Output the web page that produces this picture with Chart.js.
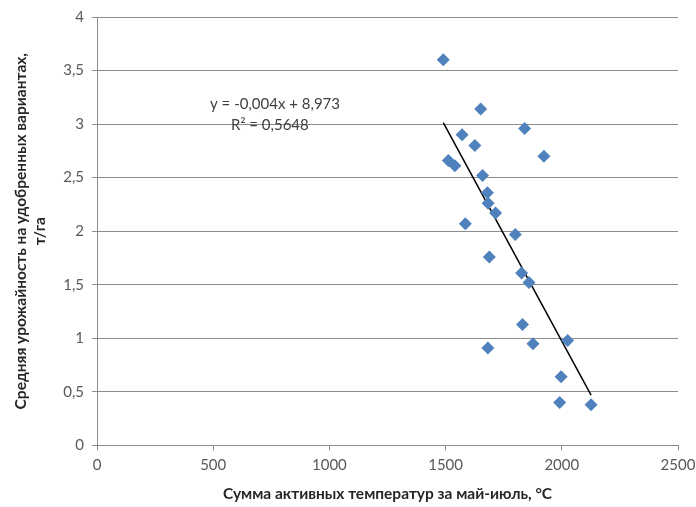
<!DOCTYPE html>
<html>
<head>
<meta charset="utf-8">
<script src="https://cdn.jsdelivr.net/npm/chart.js@4"></script>
<style>
  html, body { margin: 0; padding: 0; background: #fff; }
  #wrap { width: 696px; height: 507px; position: relative; }
</style>
</head>
<body>
<div id="wrap"><canvas id="chart"></canvas></div>
<script>
// Сумма активных температур (x) и средняя урожайность (y)
const temps = [1490, 1651, 1840, 1571, 1626, 1923, 1512, 1540, 1659, 1680, 1683, 1715,
               1585, 1800, 1688, 1827, 1859, 1831, 2025, 1876, 1682, 1997, 1991, 2126];
const yields = [3.60, 3.14, 2.96, 2.90, 2.80, 2.70, 2.66, 2.61, 2.52, 2.36, 2.26, 2.17,
                2.07, 1.97, 1.76, 1.61, 1.52, 1.13, 0.98, 0.95, 0.91, 0.64, 0.40, 0.38];

// линия тренда: y = -0,004x + 8,973
const slope = -0.004;
const intercept = 8.973;
const trendLabels = ['y = -0,004x + 8,973', 'R\u00B2 = 0,5648'];

const xTicks = [0, 500, 1000, 1500, 2000, 2500];
const yTicks = [0, 0.5, 1, 1.5, 2, 2.5, 3, 3.5, 4];

const points = temps.map((t, i) => ({ x: t, y: yields[i] }));
const xMin = Math.min(...temps), xMax = Math.max(...temps);
const trend = [xMin, xMax].map(x => ({ x: x, y: slope * x + intercept }));

const fontFamily = 'Lato, "Open Sans", sans-serif';
const gridColor = '#8c8c8c';

// подпись уравнения тренда
const trendText = {
  id: 'trendText',
  afterDatasetsDraw(chart) {
    const { ctx, scales } = chart;
    ctx.save();
    ctx.fillStyle = '#404040';
    ctx.font = '15px ' + fontFamily;
    ctx.textAlign = 'center';
    ctx.textBaseline = 'middle';
    ctx.fillText(trendLabels[0], scales.x.getPixelForValue(766), scales.y.getPixelForValue(3.19));
    ctx.fillText(trendLabels[1], scales.x.getPixelForValue(744), scales.y.getPixelForValue(2.99));
    ctx.restore();
  }
};

new Chart(document.getElementById('chart'), {
  type: 'scatter',
  data: {
    datasets: [
      {
        data: points,
        pointStyle: 'rectRot',
        pointRadius: 6.5,
        pointHoverRadius: 6.5,
        backgroundColor: '#4F81BD',
        borderWidth: 0
      },
      {
        type: 'line',
        data: trend,
        borderColor: '#000',
        borderWidth: 1.5,
        pointRadius: 0,
        fill: false
      }
    ]
  },
  options: {
    responsive: true,
    maintainAspectRatio: false,
    animation: false,
    layout: { padding: { top: 13, right: 18, bottom: 4, left: 12 } },
    plugins: { legend: { display: false }, tooltip: { enabled: false } },
    scales: {
      x: {
        type: 'linear',
        min: 0, max: 2500,
        afterBuildTicks: axis => { axis.ticks = xTicks.map(v => ({ value: v })); },
        afterFit: axis => { axis.paddingRight = 0; },
        grid: { drawOnChartArea: false, drawTicks: true, tickLength: 5, color: gridColor },
        border: { color: gridColor, width: 1 },
        ticks: {
          color: '#595959', font: { family: fontFamily, size: 15 }, padding: 6, maxRotation: 0,
          callback: v => String(v)
        },
        title: {
          display: true,
          text: 'Сумма активных температур за май-июль, \u00B0С',
          color: '#262626',
          font: { family: fontFamily, size: 15.5, weight: 'bold' },
          padding: { top: 4, bottom: 0 }
        }
      },
      y: {
        min: 0, max: 4,
        afterBuildTicks: axis => { axis.ticks = yTicks.map(v => ({ value: v })); },
        grid: { color: gridColor, tickLength: 5 },
        border: { color: gridColor, width: 1 },
        ticks: {
          color: '#595959', font: { family: fontFamily, size: 15 }, padding: 8,
          callback: v => String(v).replace('.', ',')
        },
        title: {
          display: true,
          text: ['Средняя урожайность на удобренных вариантах,', 'т/га'],
          color: '#262626',
          font: { family: fontFamily, size: 15.5, weight: 'bold' },
          padding: { top: 0, bottom: 6 }
        }
      }
    }
  },
  plugins: [trendText]
});
</script>
</body>
</html>
